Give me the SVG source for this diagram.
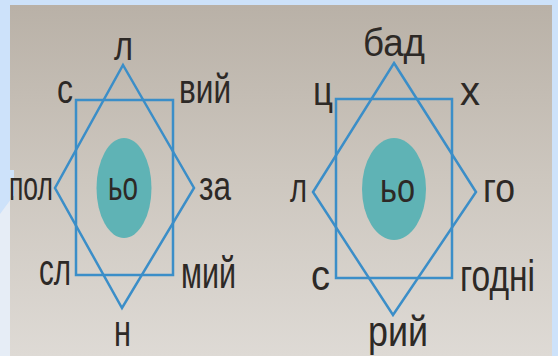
<svg xmlns="http://www.w3.org/2000/svg" width="558" height="356" viewBox="0 0 558 356">
<defs>
<linearGradient id="paper" x1="0" y1="0" x2="0" y2="1">
<stop offset="0" stop-color="#b9b1a7"/>
<stop offset="0.5" stop-color="#cdc7bf"/>
<stop offset="1" stop-color="#dedad5"/>
</linearGradient>
</defs>
<style>
.ln{fill:none;stroke:#3b8ec8;stroke-width:2.5;stroke-linejoin:miter}
.el{fill:#5fb3b5}
.t{font-family:"Liberation Sans",Arial,sans-serif;font-size:40px;fill:#2d2926}
</style>
<g id="background">
<rect x="0" y="0" width="558" height="356" fill="#cde2fa"/>
<rect x="10" y="5" width="542" height="351" fill="url(#paper)"/>
<polygon points="0,214 14,195 14,170 10,170 10,356 0,356" fill="#e6edf6"/>
<polygon points="10,170 14,170 14,195 10,200" fill="#cde2fa"/>
</g>
<g id="connectors">
<rect class="ln" x="76" y="100" width="97" height="175"/>
<polygon class="ln" points="123,65 194,188 122,308 55,188"/>
<rect class="ln" x="336" y="99" width="116" height="179"/>
<polygon class="ln" points="394,63 476,192 393,315 313,192"/>
</g>
<g id="node-left-center">
<ellipse class="el" cx="124" cy="188" rx="27.5" ry="50"/>
<text class="t" x="108" y="200" textLength="30" lengthAdjust="spacingAndGlyphs">ьо</text>
</g>
<g id="node-right-center">
<ellipse class="el" cx="394" cy="189" rx="32" ry="51"/>
<text class="t" x="380" y="202" textLength="35" lengthAdjust="spacingAndGlyphs">ьо</text>
</g>
<g id="labels-left">
<text class="t" x="114" y="60" textLength="19" lengthAdjust="spacingAndGlyphs">л</text>
<text class="t" x="57" y="103" textLength="16" lengthAdjust="spacingAndGlyphs">с</text>
<text class="t" x="179" y="103" textLength="52" lengthAdjust="spacingAndGlyphs">вий</text>
<text class="t" x="9" y="200" textLength="44" lengthAdjust="spacingAndGlyphs">пол</text>
<text class="t" x="199" y="200" textLength="32" lengthAdjust="spacingAndGlyphs">за</text>
<text class="t" x="39" y="285" textLength="32" lengthAdjust="spacingAndGlyphs" style="font-size:44px">сл</text>
<text class="t" x="181" y="288" textLength="55" lengthAdjust="spacingAndGlyphs" style="font-size:44px">мий</text>
<text class="t" x="114" y="346" textLength="17" lengthAdjust="spacingAndGlyphs" style="font-size:44px">н</text>
</g>
<g id="labels-right">
<text class="t" x="363" y="56" textLength="62" lengthAdjust="spacingAndGlyphs" style="font-size:38px">бад</text>
<text class="t" x="313" y="105" textLength="20" lengthAdjust="spacingAndGlyphs">ц</text>
<text class="t" x="460" y="105" textLength="20" lengthAdjust="spacingAndGlyphs">х</text>
<text class="t" x="290" y="202" textLength="17" lengthAdjust="spacingAndGlyphs">л</text>
<text class="t" x="483" y="202" textLength="32" lengthAdjust="spacingAndGlyphs">го</text>
<text class="t" x="311" y="290" textLength="19" lengthAdjust="spacingAndGlyphs" style="font-size:42px">с</text>
<text class="t" x="460" y="291" textLength="75" lengthAdjust="spacingAndGlyphs" style="font-size:44px">годні</text>
<text class="t" x="368" y="346" textLength="60" lengthAdjust="spacingAndGlyphs" style="font-size:42px">рий</text>
</g>
</svg>
